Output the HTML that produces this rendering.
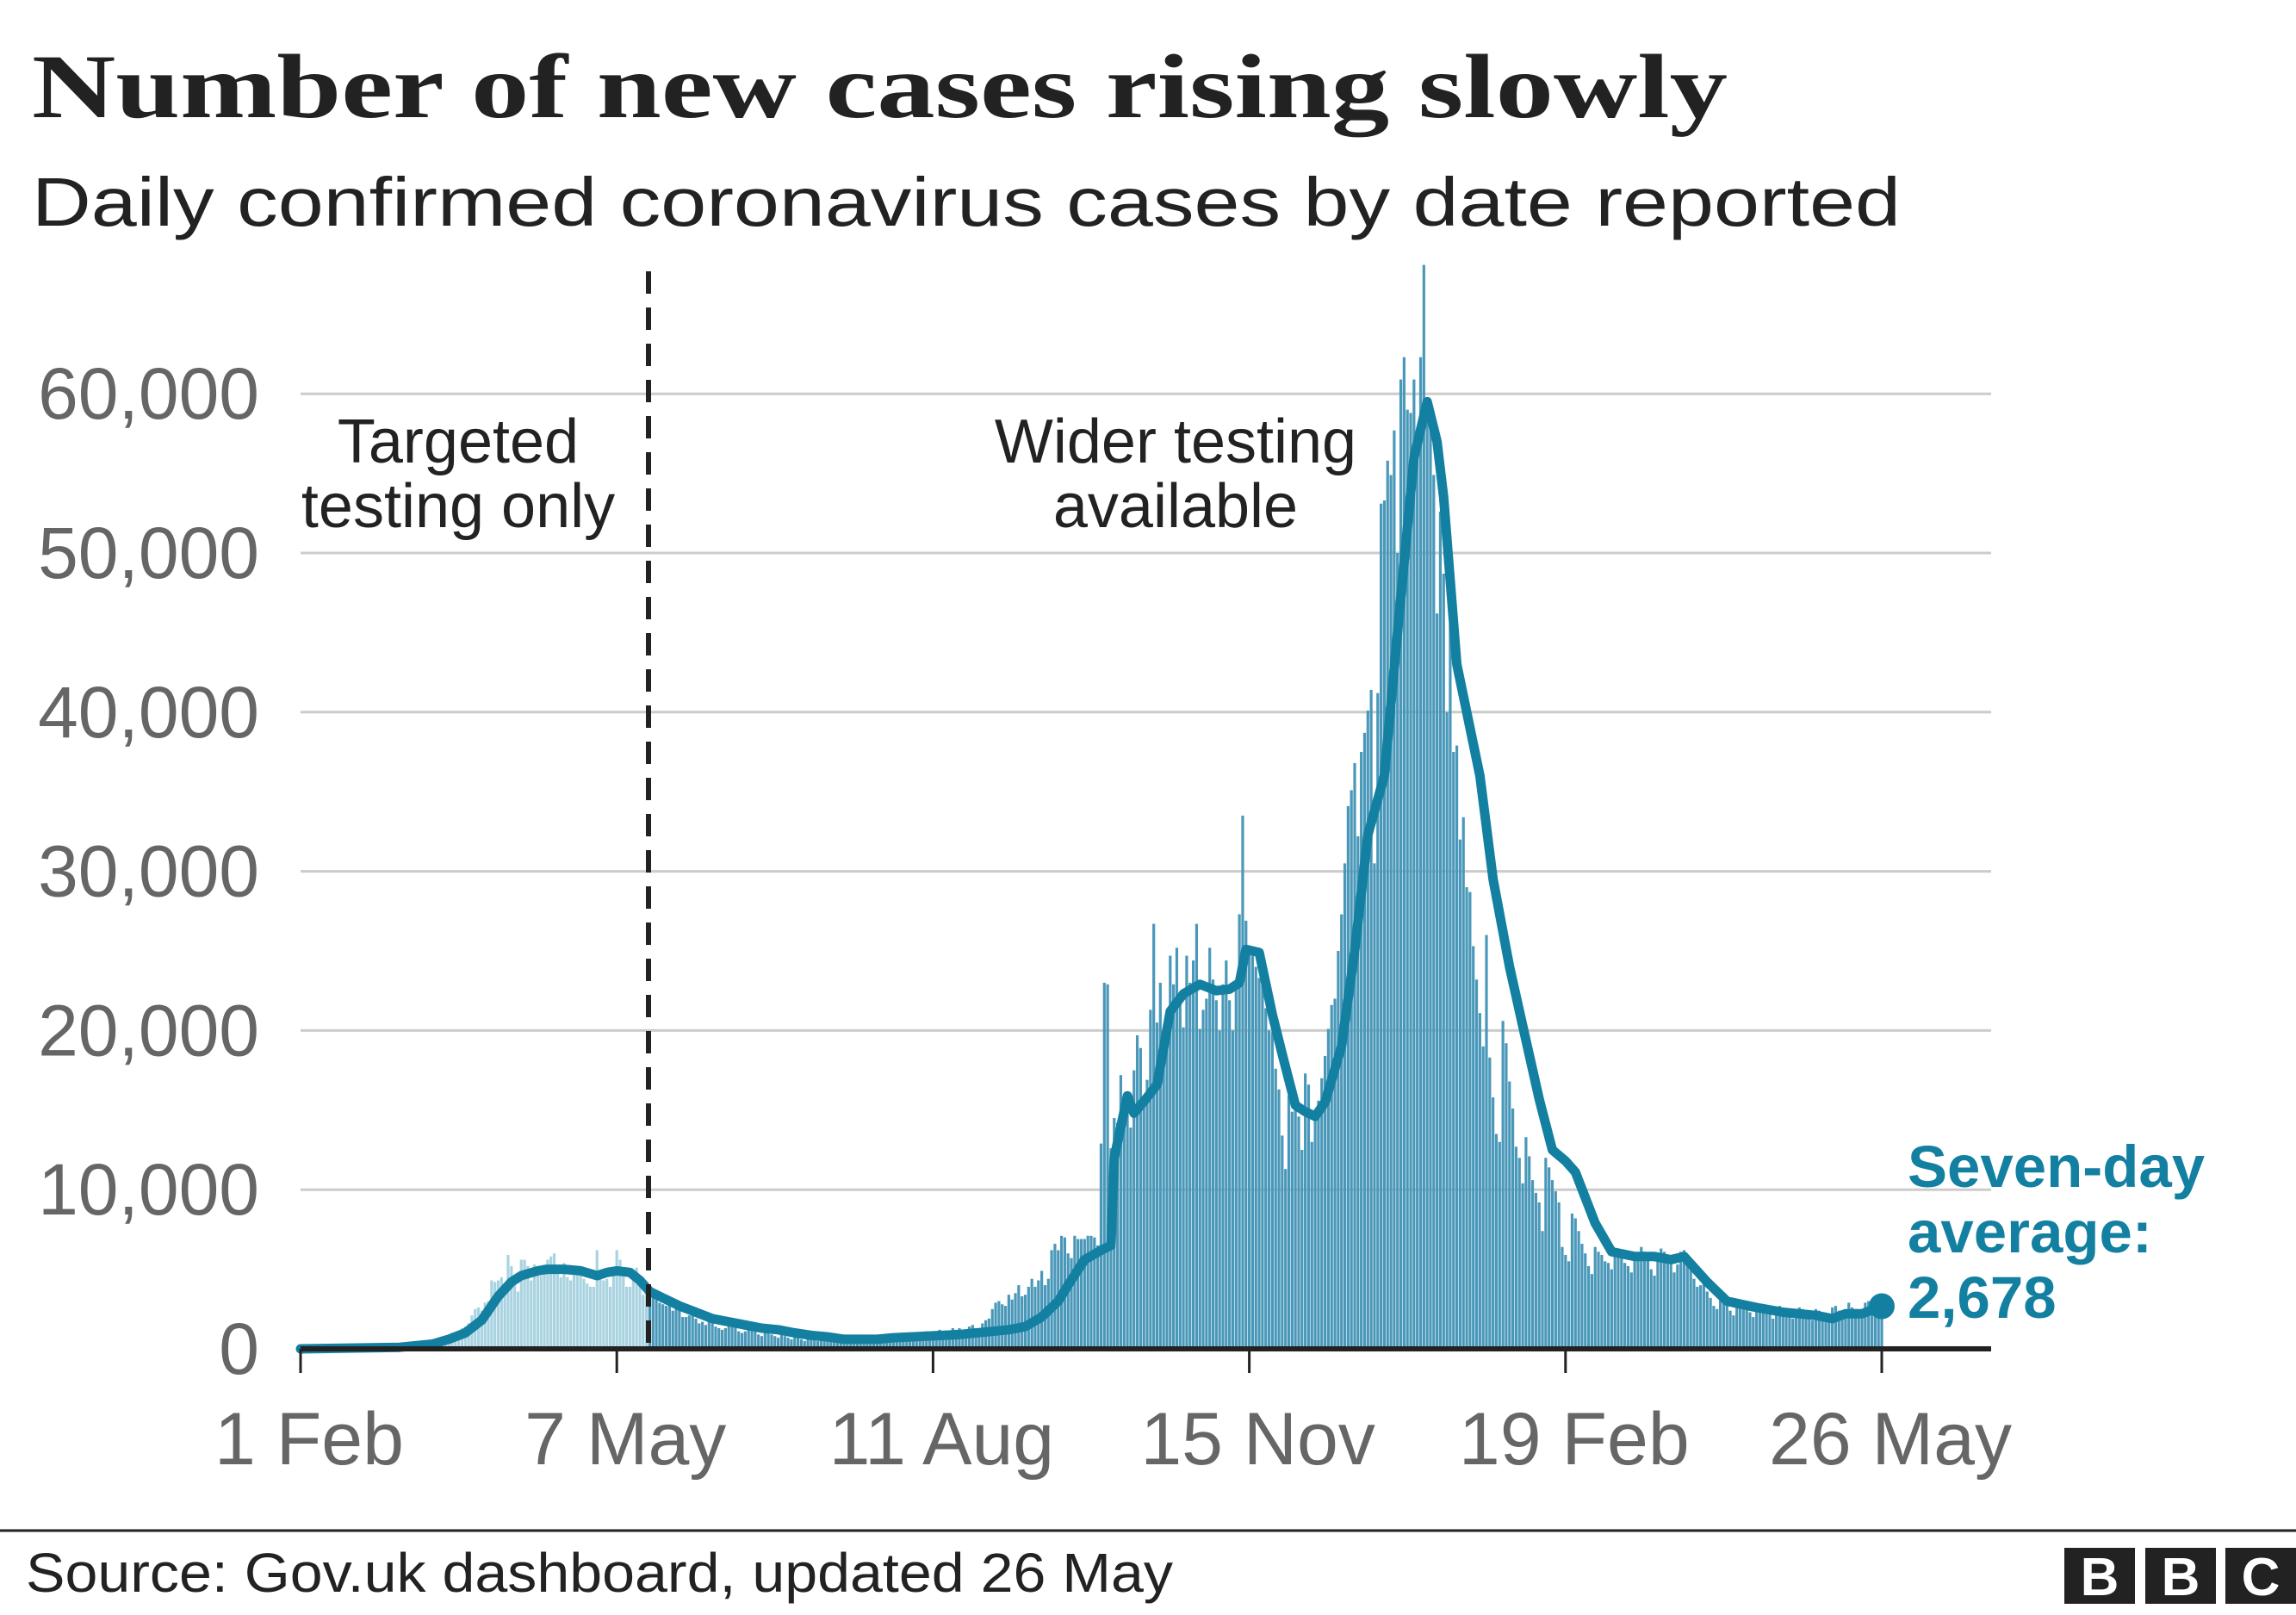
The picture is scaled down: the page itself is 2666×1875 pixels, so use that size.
<!DOCTYPE html>
<html><head><meta charset="utf-8">
<style>
html,body{margin:0;padding:0;background:#fff;}
svg{display:block;}
</style></head>
<body>
<svg id="chart" width="2666" height="1875" viewBox="0 0 2666 1875" xmlns="http://www.w3.org/2000/svg">
<rect x="0" y="0" width="2666" height="1875" fill="#fff"/>
<text x="37" y="136" font-family="Liberation Serif, serif" font-weight="bold" font-size="106" fill="#222" textLength="1969" lengthAdjust="spacingAndGlyphs">Number of new cases rising slowly</text>
<text x="37" y="262" font-family="Liberation Sans, sans-serif" font-size="80" fill="#222" textLength="2170" lengthAdjust="spacingAndGlyphs">Daily confirmed coronavirus cases by date reported</text>
<g id="grid"></g>
<g id="ylabels"></g>
<g id="bars"></g>
<g id="avgline"></g>
<g id="xaxis"></g>
<line x1="753" y1="315" x2="753" y2="1566" stroke="#222" stroke-width="6" stroke-dasharray="26,16"/>
<text font-family="Liberation Sans, sans-serif" font-size="72" fill="#222" text-anchor="middle"><tspan x="532" y="537">Targeted</tspan><tspan x="532" y="612">testing only</tspan></text>
<text font-family="Liberation Sans, sans-serif" font-size="72" fill="#222" text-anchor="middle"><tspan x="1365" y="537">Wider testing</tspan><tspan x="1365" y="612">available</tspan></text>
<text font-family="Liberation Sans, sans-serif" font-weight="bold" font-size="69" fill="#1380a1"><tspan x="2215" y="1378">Seven-day</tspan><tspan x="2215" y="1454">average:</tspan><tspan x="2215" y="1530">2,678</tspan></text>
<line x1="0" y1="1777" x2="2666" y2="1777" stroke="#222" stroke-width="3"/>
<text x="30" y="1848" font-family="Liberation Sans, sans-serif" font-size="64" fill="#222" textLength="1332" lengthAdjust="spacingAndGlyphs">Source: Gov.uk dashboard, updated 26 May</text>
<g font-family="Liberation Sans, sans-serif" font-weight="bold" font-size="62" fill="#fff" text-anchor="middle">
<rect x="2397" y="1797" width="82" height="65" fill="#222"/><text x="2438" y="1852">B</text>
<rect x="2491" y="1797" width="82" height="65" fill="#222"/><text x="2532" y="1852">B</text>
<rect x="2584" y="1797" width="82" height="65" fill="#222"/><text x="2625" y="1852">C</text>
</g>
</svg>
<script>
const yTicks = [0, 10000, 20000, 30000, 40000, 50000, 60000];
const yTickLabels = ["0", "10,000", "20,000", "30,000", "40,000", "50,000", "60,000"];
const xTickDays = [0, 96, 192, 288, 384, 480];
const xTickLabels = ["1 Feb", "7 May", "11 Aug", "15 Nov", "19 Feb", "26 May"];
const dividerDay = 106;
// daily cases, thousands, day 0 = 1 Feb 2020
const dailyCases = [
0,0,0,0,0,0,0,0,0,0, 0,0,0,0,0,0,0,0,0,0, 0,0,0,0,0,0,0,0,0,0,
0,0,0,0,0.1,0.1,0.1,0.2,0.3,0.3,
0.4,0.3,0.4,0.7,0.6,0.7,1.0,1.0,1.0,1.3,
1.4,1.6,2.1,2.5,2.6,2.4,2.9,3.0,4.3,4.2,
4.3,4.5,3.7,5.9,5.2,4.4,3.6,5.6,5.6,5.2,
4.3,5.3,4.6,4.6,5.3,5.6,5.8,6.0,4.8,4.5,
5.4,4.5,4.3,4.9,5.2,4.8,4.4,4.1,3.9,3.9,
6.2,4.8,4.3,4.4,3.9,5.0,6.2,5.6,4.6,3.9,
3.9,4.6,5.1,4.0,3.4,3.5,3.9,3.6,3.1,2.9,
2.8,2.7,2.9,2.4,2.6,2.8,2.0,2.0,2.1,2.4,
1.9,1.6,1.7,1.5,1.8,1.7,1.4,1.3,1.2,1.3,
1.5,1.6,1.6,1.1,1.0,1.1,1.4,1.3,1.1,0.9,
0.8,1.0,1.0,0.9,0.8,0.7,0.9,0.8,0.7,0.6,
0.7,0.8,0.6,0.5,0.6,0.7,0.6,0.5,0.6,0.7,
0.7,0.6,0.5,0.5,0.6,0.8,0.7,0.6,0.5,0.6,
0.7,0.8,0.7,0.6,0.6,0.8,0.9,0.8,0.7,0.6,
0.9,0.9,0.8,0.7,0.9,1.0,0.9,0.8,0.8,1.0,
1.1,1.0,0.9,0.8,1.2,1.1,1.0,0.9,1.3,1.2,
1.3,1.1,1.0,1.4,1.5,1.3,1.2,1.6,1.8,1.9,
2.5,2.9,3.0,2.8,2.7,3.4,3.1,3.5,4.0,3.3,
3.4,3.9,4.4,3.9,4.3,4.9,4.0,4.4,6.2,6.6,
6.2,7.1,7.0,6.0,5.7,7.1,6.9,6.9,6.9,7.1,
7.1,7.0,6.5,12.9,23.0,22.9,12.6,14.5,14.2,17.2,
14.2,15.2,13.9,17.5,19.7,18.9,15.6,16.9,21.3,26.7,
20.5,23.0,19.5,20.9,24.7,22.9,25.2,21.7,20.2,24.7,
23.0,24.4,26.7,20.1,21.3,22.0,25.2,23.2,21.9,20.0,
22.9,24.4,21.9,20.0,22.9,27.3,33.5,26.9,25.3,24.9,
24.0,23.3,22.9,21.4,20.0,19.9,17.6,16.3,13.4,11.3,
15.9,14.9,15.9,14.6,12.5,17.3,16.6,13.0,14.6,15.6,
17.0,18.4,20.1,21.6,22.0,25.0,27.3,30.5,34.1,35.1,
36.8,32.2,37.5,38.7,40.1,41.4,30.5,41.2,53.1,53.3,
55.8,54.9,57.7,50.0,60.9,62.3,59.0,58.8,60.9,57.7,
62.3,68.1,58.8,59.0,54.9,46.2,52.6,48.7,40.0,45.5,
37.5,37.9,32.0,33.4,29.0,28.7,25.3,23.2,21.1,19.0,
26.0,18.3,15.8,13.5,13.0,20.6,19.2,16.8,15.1,12.7,
12.0,10.4,13.3,12.1,10.6,9.8,9.2,7.4,12.0,11.4,
10.6,9.9,9.2,6.4,5.9,5.5,8.5,8.2,7.4,6.6,
6.0,5.2,4.7,6.4,6.1,5.9,5.5,5.4,5.0,5.8,
6.2,5.8,5.4,5.2,4.8,5.6,6.0,6.4,6.1,5.7,
5.0,4.6,5.8,6.3,6.1,5.5,5.3,4.8,5.3,6.1,
6.2,5.7,5.3,4.4,3.9,4.0,4.5,3.6,3.2,2.7,
2.5,3.2,3.0,2.8,2.4,2.1,2.6,2.9,2.7,2.5,
2.3,2.0,2.8,2.6,2.5,2.4,2.2,1.9,2.6,2.7,
2.5,2.3,2.1,1.9,2.4,2.6,2.5,2.2,2.0,1.8,
2.5,2.4,2.3,2.0,1.9,2.6,2.7,2.4,2.2,2.1,
2.9,2.6,2.5,2.2,2.4,2.9,3.0,2.7,2.6,2.5,3.2
];
const avgDays = [0,30,40,45,50,55,60,64,67,72,75,80,85,90,93,96,100,103,106,110,115,120,125,130,135,140,145,150,155,160,165,170,175,180,190,200,210,215,220,225,230,233,238,244,246,247,251,253,257,260,264,268,273,278,282,285,287,291,295,298,302,305,308,311,316,320,324,329,333,338,342,345,347,351,358,362,367,371,376,380,384,387,393,398,405,411,416,420,427,433,442,450,455,460,465,469,474,480];
const avgValues = [0,0.1,0.3,0.6,1.0,1.8,3.3,4.2,4.6,4.9,5.0,5.0,4.9,4.6,4.8,4.9,4.8,4.3,3.6,3.2,2.7,2.3,1.9,1.7,1.5,1.3,1.2,1.0,0.85,0.75,0.6,0.6,0.6,0.7,0.8,0.9,1.1,1.2,1.4,2.0,3.0,4.0,5.6,6.3,6.5,12.0,15.9,14.8,15.8,16.6,21.2,22.3,22.9,22.5,22.6,23.0,25.1,24.9,21.0,18.5,15.3,14.9,14.6,15.5,19.0,25.0,32.3,36.0,45.0,56.0,59.5,57.0,53.5,43.0,36.0,29.5,24.0,20.3,15.7,12.5,11.8,11.1,7.9,6.1,5.8,5.8,5.6,5.8,4.2,3.0,2.6,2.3,2.2,2.1,1.9,2.2,2.2,2.678];

const NS = "http://www.w3.org/2000/svg";
const X0 = 349, PXDAY = 3.825, Y0 = 1566, PXK = 18.48;
function xScale(d){ return X0 + d * PXDAY; }
function yScale(v){ return Y0 - v * PXK; }
function mk(tag, attrs, parent){ const e = document.createElementNS(NS, tag); for (const k in attrs) e.setAttribute(k, attrs[k]); parent.appendChild(e); return e; }

const grid = document.getElementById('grid');
const yl = document.getElementById('ylabels');
yTicks.forEach((t, i) => {
  if (t > 0) {
    const ln = mk('line', {x1: X0, x2: 2312, y1: yScale(t/1000), y2: yScale(t/1000), stroke: '#cccccc', 'stroke-width': 3}, grid);
    
    
  }
  const tx = mk('text', {x: 301, y: yScale(t/1000) + 29, 'text-anchor': 'end', 'font-family': 'Liberation Sans, sans-serif', 'font-size': 84, fill: '#666'}, yl);
  tx.textContent = yTickLabels[i];
  
  
});

const bars = document.getElementById('bars');
dailyCases.forEach((v, d) => {
  if (v <= 0) return;
  const r = mk('rect', {x: xScale(d) - 1.6, y: yScale(v), width: 3.2, height: v * PXK, fill: d < dividerDay ? '#a9d3e1' : '#4a98b9'}, bars);
  
  
});

const al = document.getElementById('avgline');
const pts = avgDays.map((d, i) => xScale(d).toFixed(1) + ',' + yScale(avgValues[i]).toFixed(1)).join(' ');
const pl = mk('polyline', {points: pts, fill: 'none', stroke: '#1380a1', 'stroke-width': 11, 'stroke-linejoin': 'round', 'stroke-linecap': 'round'}, al);


const last = avgValues.length - 1;
const dot = mk('circle', {cx: xScale(avgDays[last]), cy: yScale(avgValues[last]), r: 15, fill: '#1380a1'}, al);



const xa = document.getElementById('xaxis');
const axl = mk('line', {x1: X0, x2: 2312, y1: Y0, y2: Y0, stroke: '#222', 'stroke-width': 6}, xa);


xTickDays.forEach((d, i) => {
  const tk = mk('line', {x1: xScale(d), x2: xScale(d), y1: Y0, y2: 1594, stroke: '#222', 'stroke-width': 3}, xa);
  
  
  const tx = mk('text', {x: xScale(d) + 10, y: 1700, 'text-anchor': 'middle', 'font-family': 'Liberation Sans, sans-serif', 'font-size': 86, fill: '#666'}, xa);
  tx.textContent = xTickLabels[i];
  
  
});
</script>
</body></html>
